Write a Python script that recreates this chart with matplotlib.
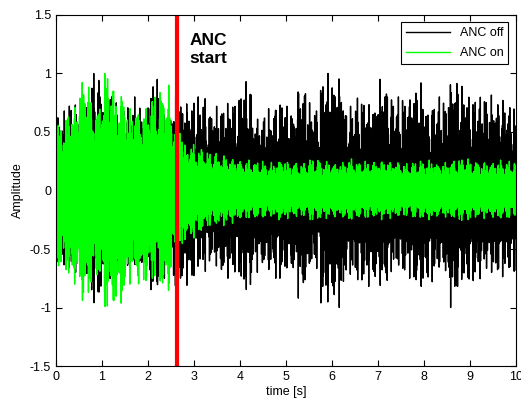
import numpy as np
import matplotlib
matplotlib.use("Agg")
import matplotlib.pyplot as plt

plt.rcParams["font.family"] = ["Liberation Sans", "DejaVu Sans"]

# peak amplitudes, one value per 0.25 s window (0 .. 10 s)
off_top = [0.68, 0.76, 0.72, 1.00, 0.88, 0.75, 0.80, 0.77, 0.95, 0.70,
           0.80, 0.80, 0.80, 0.72, 0.75, 0.77, 0.93, 0.65, 0.70, 0.78,
           0.72, 0.95, 0.75, 1.00, 1.00, 0.72, 0.79, 0.75, 0.95, 0.80,
           0.85, 0.92, 0.75, 0.80, 0.99, 0.89, 0.80, 0.83, 0.77, 0.71]
off_bot = [0.66, 0.70, 0.75, 0.99, 0.80, 0.75, 0.70, 0.75, 0.90, 0.75,
           0.88, 0.81, 0.70, 0.65, 0.75, 0.70, 0.90, 0.70, 0.72, 0.75,
           0.75, 0.92, 0.70, 1.00, 1.00, 0.75, 0.78, 0.82, 0.83, 0.70,
           0.75, 0.90, 0.78, 0.72, 1.00, 0.83, 0.77, 0.70, 0.75, 0.69]
on_top = [0.60, 0.72, 0.95, 0.75, 1.00, 0.85, 0.75, 0.70, 0.80, 0.90,
          0.60, 0.40, 0.35, 0.32, 0.30, 0.28, 0.26, 0.25, 0.24, 0.26,
          0.25, 0.23, 0.26, 0.25, 0.24, 0.27, 0.25, 0.24, 0.26, 0.25,
          0.23, 0.25, 0.26, 0.24, 0.25, 0.27, 0.24, 0.25, 0.26, 0.25]
on_bot = [0.70, 0.80, 0.94, 0.80, 1.00, 1.00, 0.80, 0.83, 0.75, 0.89,
          0.55, 0.42, 0.35, 0.30, 0.30, 0.28, 0.25, 0.24, 0.23, 0.25,
          0.24, 0.22, 0.25, 0.24, 0.23, 0.26, 0.24, 0.23, 0.25, 0.24,
          0.22, 0.24, 0.25, 0.23, 0.24, 0.26, 0.23, 0.24, 0.25, 0.24]

anc_start = 2.62
t_end = 10.0
per_win = 50


def make_signal(top, bot, f1, f2, f3, base, p):
    n = np.arange(len(top) * per_win)
    s = np.abs(np.cos(f1 * n) * np.cos(f2 * n + 1.0) * np.cos(f3 * n + 2.0)) ** p
    m = base + (1 - base) * s
    m = m.reshape(len(top), per_win)
    m = m / m.max(axis=1, keepdims=True)
    up = m * np.array(top)[:, None]
    lo = m * np.array(bot)[:, None]
    sig = np.where(n.reshape(len(top), per_win) % 2 == 0, up, -lo)
    return sig.ravel()


t = np.linspace(0, t_end, len(off_top) * per_win)
y_off = make_signal(off_top, off_bot, 0.7071, 0.3183, 0.1234, 0.28, 0.55)
y_on = make_signal(on_top, on_bot, 0.5773, 0.2611, 0.0917, 0.45, 0.7)

fig = plt.figure(figsize=(5.21, 4.03), dpi=100)
ax = fig.add_axes([0.1075, 0.0918, 0.8829, 0.871])
ax.plot(t, y_off, color="k", lw=1.0, label="ANC off")
ax.plot(t, y_on, color="#00ff00", lw=1.0, label="ANC on")
ax.axvline(anc_start, color="red", lw=3)
ax.text(anc_start + 0.28, 1.35, "ANC\nstart", fontsize=12.5, fontweight="bold",
        va="top", ha="left", linespacing=1.3)

ax.set_xlim(0, 10)
ax.set_ylim(-1.5, 1.5)
ax.set_xticks(range(0, 11))
ax.set_yticks([-1.5, -1, -0.5, 0, 0.5, 1, 1.5])
ax.set_yticklabels(["-1.5", "-1", "-0.5", "0", "0.5", "1", "1.5"])
ax.tick_params(direction="in", top=True, right=True, labelsize=9, length=4)
ax.set_xlabel("time [s]", fontsize=9, labelpad=2)
ax.set_ylabel("Amplitude", fontsize=9, labelpad=4)
leg = ax.legend(loc="upper right", fontsize=9, fancybox=False, framealpha=1,
                edgecolor="k", borderaxespad=0.6, handlelength=3.5,
                labelspacing=0.6)
leg.get_frame().set_linewidth(0.8)
plt.savefig("out.png", dpi=100)
